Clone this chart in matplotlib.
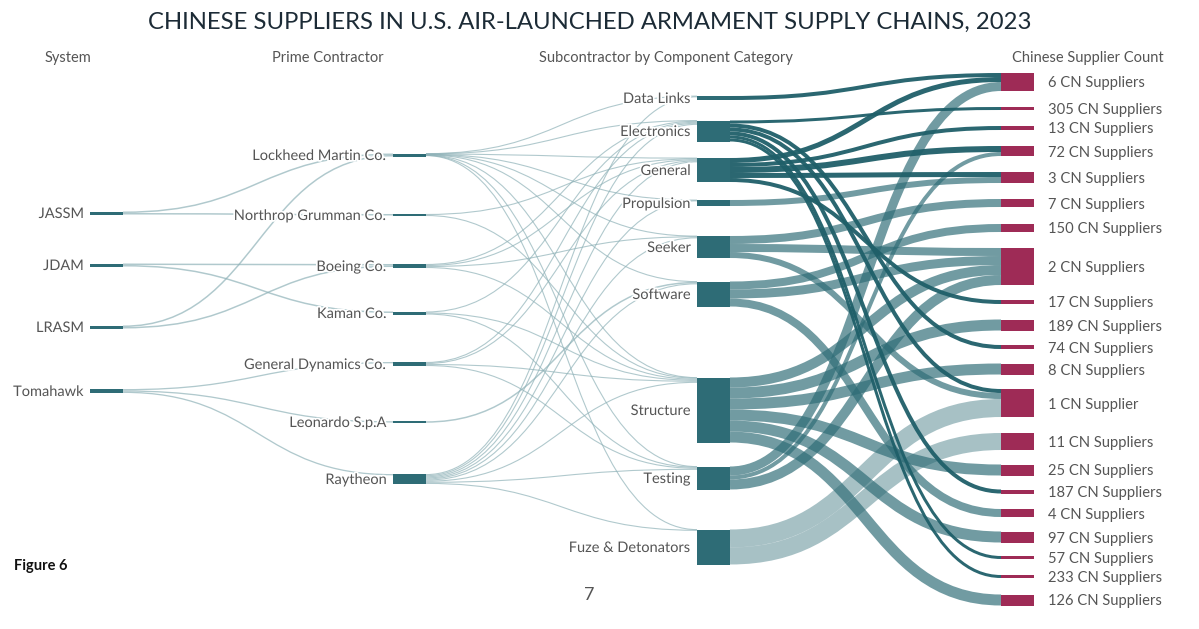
import matplotlib.pyplot as plt
import matplotlib.patheffects as pe
from matplotlib.path import Path
from matplotlib.patches import PathPatch, Rectangle

plt.rcParams['font.family'] = ['Lato', 'DejaVu Sans']

# ---- data ----
systems = ['JASSM', 'JDAM', 'LRASM', 'Tomahawk']
primes = ['Lockheed Martin Co.', 'Northrop Grumman Co.', 'Boeing Co.', 'Kaman Co.',
          'General Dynamics Co.', 'Leonardo S.p.A', 'Raytheon']
components = ['Data Links', 'Electronics', 'General', 'Propulsion', 'Seeker',
              'Software', 'Structure', 'Testing', 'Fuze & Detonators']
suppliers = ['6 CN Suppliers', '305 CN Suppliers', '13 CN Suppliers', '72 CN Suppliers',
             '3 CN Suppliers', '7 CN Suppliers', '150 CN Suppliers', '2 CN Suppliers',
             '17 CN Suppliers', '189 CN Suppliers', '74 CN Suppliers', '8 CN Suppliers',
             '1 CN Supplier', '11 CN Suppliers', '25 CN Suppliers', '187 CN Suppliers',
             '4 CN Suppliers', '97 CN Suppliers', '57 CN Suppliers', '233 CN Suppliers',
             '126 CN Suppliers']

system_links = [
    ('JASSM', 'Lockheed Martin Co.', 1.5), ('JASSM', 'Northrop Grumman Co.', 1.5),
    ('JDAM', 'Boeing Co.', 1.5), ('JDAM', 'Kaman Co.', 1.5),
    ('LRASM', 'Lockheed Martin Co.', 1.5), ('LRASM', 'Boeing Co.', 1.5),
    ('Tomahawk', 'General Dynamics Co.', 1.3), ('Tomahawk', 'Leonardo S.p.A', 1.3),
    ('Tomahawk', 'Raytheon', 1.3),
]

prime_links = (
    [('Lockheed Martin Co.', c, 0.25) for c in components]
    + [('Northrop Grumman Co.', 'General', 1), ('Northrop Grumman Co.', 'Structure', 1),
       ('Boeing Co.', 'Electronics', 1), ('Boeing Co.', 'General', 1),
       ('Boeing Co.', 'Seeker', 1), ('Boeing Co.', 'Structure', 1),
       ('Kaman Co.', 'Electronics', 1), ('Kaman Co.', 'Structure', 1), ('Kaman Co.', 'Testing', 1),
       ('General Dynamics Co.', 'Electronics', 1), ('General Dynamics Co.', 'General', 1),
       ('General Dynamics Co.', 'Structure', 1), ('General Dynamics Co.', 'Testing', 1),
       ('Leonardo S.p.A', 'Software', 1.5)]
    + [('Raytheon', c, 1.1) for c in components]
)

component_links = [
    ('Data Links', '6 CN Suppliers', 4),
    ('Electronics', '305 CN Suppliers', 3), ('Electronics', '74 CN Suppliers', 4),
    ('Electronics', '1 CN Supplier', 4), ('Electronics', '187 CN Suppliers', 4),
    ('Electronics', '57 CN Suppliers', 3), ('Electronics', '233 CN Suppliers', 3),
    ('General', '6 CN Suppliers', 5), ('General', '13 CN Suppliers', 4),
    ('General', '72 CN Suppliers', 6), ('General', '3 CN Suppliers', 5),
    ('General', '17 CN Suppliers', 4),
    ('Propulsion', '3 CN Suppliers', 6),
    ('Seeker', '7 CN Suppliers', 8), ('Seeker', '2 CN Suppliers', 8), ('Seeker', '1 CN Supplier', 6),
    ('Software', '150 CN Suppliers', 8), ('Software', '2 CN Suppliers', 9),
    ('Software', '4 CN Suppliers', 8),
    ('Structure', '2 CN Suppliers', 10), ('Structure', '189 CN Suppliers', 11),
    ('Structure', '8 CN Suppliers', 11), ('Structure', '25 CN Suppliers', 11),
    ('Structure', '97 CN Suppliers', 11), ('Structure', '126 CN Suppliers', 11),
    ('Testing', '6 CN Suppliers', 9), ('Testing', '2 CN Suppliers', 10),
    ('Testing', '72 CN Suppliers', 4),
    ('Fuze & Detonators', '1 CN Supplier', 18), ('Fuze & Detonators', '11 CN Suppliers', 17),
]

headers = ['System', 'Prime Contractor', 'Subcontractor by Component Category',
           'Chinese Supplier Count']

# ---- layout (pixels) ----
W, H = 1199, 629
col_x = [90, 393, 697, 1001]
node_w = 33
centers = [
    [213, 265, 327, 391],
    [155, 215, 266, 313, 364, 422, 479],
    [98, 131, 170, 203, 247, 294, 410, 478, 547],
    [82, 108.5, 128, 151, 177.5, 203, 228, 266.5, 302, 325, 347, 369, 403, 441.5,
     470, 491.5, 513, 537, 557.5, 576.5, 600],
]
header_x = [68, 328, 666, 1088]

teal = '#2e6c76'
dark_link = '#1f5f69'
magenta = '#9e2b56'
label_col = '#555555'
comp_style = {'Data Links': (dark_link, 0.95), 'Electronics': (dark_link, 0.95),
              'General': (dark_link, 0.95), 'Fuze & Detonators': (teal, 0.42)}

columns = [systems, primes, components, suppliers]
nodes = {}
for ci, names in enumerate(columns):
    for name, cy in zip(names, centers[ci]):
        nodes[name] = {'col': ci, 'cy': cy, 'in': [], 'out': []}

all_links = [dict(s=s, t=t, v=v, kind='sys') for s, t, v in system_links] \
    + [dict(s=s, t=t, v=v, kind='prime') for s, t, v in prime_links] \
    + [dict(s=s, t=t, v=v, kind='comp') for s, t, v in component_links]
for lk in all_links:
    nodes[lk['s']]['out'].append(lk)
    nodes[lk['t']]['in'].append(lk)

for name, nd in nodes.items():
    h = max(sum(l['v'] for l in nd['in']), sum(l['v'] for l in nd['out']))
    nd['h'] = h
    nd['y0'] = nd['cy'] - h / 2
for name, nd in nodes.items():
    y = nd['y0']
    for lk in sorted(nd['out'], key=lambda l: nodes[l['t']]['cy']):
        lk['ys'] = y + lk['v'] / 2
        y += lk['v']
    y = nd['y0']
    for lk in sorted(nd['in'], key=lambda l: nodes[l['s']]['cy']):
        lk['yt'] = y + lk['v'] / 2
        y += lk['v']

fig = plt.figure(figsize=(W / 100, H / 100), dpi=100)
ax = fig.add_axes([0, 0, 1, 1])
ax.set_xlim(0, W)
ax.set_ylim(H, 0)
ax.axis('off')

px = 0.72  # points per pixel


def draw_link(lk, color, alpha, lw, z):
    x0 = col_x[nodes[lk['s']]['col']] + node_w
    x1 = col_x[nodes[lk['t']]['col']]
    xm = (x0 + x1) / 2
    p = Path([(x0, lk['ys']), (xm, lk['ys']), (xm, lk['yt']), (x1, lk['yt'])],
             [Path.MOVETO, Path.CURVE4, Path.CURVE4, Path.CURVE4])
    ax.add_patch(PathPatch(p, fill=False, edgecolor=color, alpha=alpha,
                           linewidth=lw * px, capstyle='butt', zorder=z))


for lk in all_links:
    if lk['kind'] in ('sys', 'prime'):
        draw_link(lk, '#8fb2b8', 0.7, max(lk['v'], 1.1), 1)
comp = [l for l in all_links if l['kind'] == 'comp']
comp.sort(key=lambda l: 0 if l['s'] == 'Fuze & Detonators' else (2 if l['s'] in comp_style else 1))
for lk in comp:
    color, alpha = comp_style.get(lk['s'], (teal, 0.68))
    draw_link(lk, color, alpha, lk['v'], 2)

halo = [pe.withStroke(linewidth=2.5, foreground='white')]
for name, nd in nodes.items():
    ci = nd['col']
    fc = magenta if ci == 3 else teal
    ax.add_patch(Rectangle((col_x[ci], nd['y0']), node_w, nd['h'], facecolor=fc,
                           edgecolor='none', zorder=3))
    if ci == 3:
        ax.text(col_x[ci] + node_w + 14, nd['cy'] + 1.5, name, ha='left', va='center',
                fontsize=10.6, color=label_col, zorder=4)
    else:
        ax.text(col_x[ci] - 6, nd['cy'] + 1, name, ha='right', va='center',
                fontsize=10.5, color=label_col, zorder=4, path_effects=halo)

for hx, txt in zip(header_x, headers):
    ax.text(hx, 58, txt, ha='center', va='center', fontsize=10.5, color=label_col)

ax.text(590, 22, 'CHINESE SUPPLIERS IN U.S. AIR-LAUNCHED ARMAMENT SUPPLY CHAINS, 2023',
        ha='center', va='center', fontsize=17.2, color='#1c2b36')
ax.text(14, 566, 'Figure 6', ha='left', va='center', fontsize=10.5, fontweight='bold',
        color='#111111')
ax.text(589, 595, '7', ha='center', va='center', fontsize=13, color='#555555')

fig.savefig('out.png', dpi=100)
